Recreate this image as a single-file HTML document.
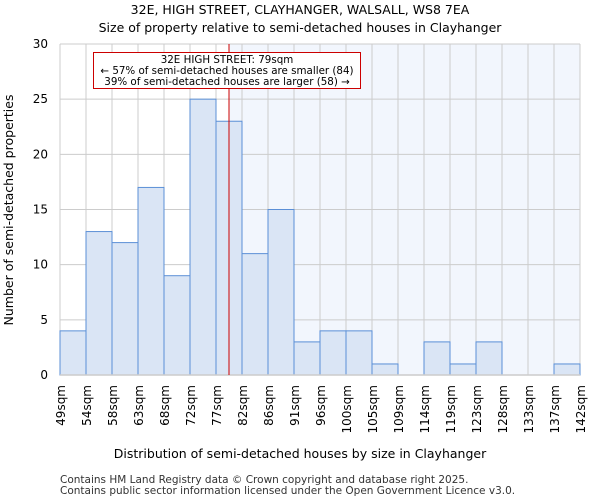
<!DOCTYPE html>
<html><head><meta charset="utf-8"><style>
body{margin:0;background:#fff;font-family:"DejaVu Sans","Liberation Sans",sans-serif;}
svg text{font-family:"DejaVu Sans","Liberation Sans",sans-serif;}
</style></head><body>
<svg id="c" width="600" height="500">
<text x="300" y="14" text-anchor="middle" font-size="12.5">32E, HIGH STREET, CLAYHANGER, WALSALL, WS8 7EA</text>
<text x="300" y="32" text-anchor="middle" font-size="12.5">Size of property relative to semi-detached houses in Clayhanger</text>
<g id="plot"></g>
<text x="300" y="458" text-anchor="middle" font-size="12.5">Distribution of semi-detached houses by size in Clayhanger</text>
<text transform="translate(13,210) rotate(-90)" text-anchor="middle" font-size="12.5">Number of semi-detached properties</text>
<text x="60" y="483" font-size="10.5" fill="#333">Contains HM Land Registry data © Crown copyright and database right 2025.</text>
<text x="60" y="494" font-size="10.5" fill="#333">Contains public sector information licensed under the Open Government Licence v3.0.</text>
</svg>
<script>
const labels=["49sqm","54sqm","58sqm","63sqm","68sqm","72sqm","77sqm","82sqm","86sqm","91sqm","96sqm","100sqm","105sqm","109sqm","114sqm","119sqm","123sqm","128sqm","133sqm","137sqm","142sqm"];
const counts=[4,13,12,17,9,25,23,11,15,3,4,4,1,0,3,1,3,0,0,1];
const yTicks=[0,5,10,15,20,25,30];
const markerBin=6.5;
const annotation=["32E HIGH STREET: 79sqm","← 57% of semi-detached houses are smaller (84)","39% of semi-detached houses are larger (58) →"];
const X0=60,X1=580,Y0=375,Y1=44,YMAX=30;
const ns="http://www.w3.org/2000/svg";
const g=document.getElementById('plot');
const bw=(X1-X0)/counts.length;
const xs=i=>X0+i*bw;
const ys=v=>Y0-(v/YMAX)*(Y0-Y1);
function el(t,a){const e=document.createElementNS(ns,t);for(const k in a)e.setAttribute(k,a[k]);g.appendChild(e);return e;}
const mx=xs(markerBin);
let bg=el('rect',{x:mx,y:Y1,width:X1-mx,height:Y0-Y1,fill:'#f2f6fd'});


for(let i=0;i<labels.length;i++){
  let l=el('line',{x1:xs(i),x2:xs(i),y1:Y1,y2:Y0,stroke:'#cccccc','stroke-width':1});
  
  
  let t=el('text',{transform:`translate(${xs(i)+5},385) rotate(-90)`,'text-anchor':'end','font-size':12});
  t.textContent=labels[i];
  
  
}
yTicks.forEach(v=>{
  let l=el('line',{x1:X0,x2:X1,y1:ys(v),y2:ys(v),stroke:'#cccccc','stroke-width':1});
  
  
  let t=el('text',{x:X0-12,y:ys(v)+4,'text-anchor':'end','font-size':12});
  t.textContent=v;
  
  
});
counts.forEach((c,i)=>{
  if(c<=0)return;
  let r=el('rect',{x:xs(i),y:ys(c),width:bw,height:Y0-ys(c),fill:'#dae5f5',stroke:'#5b8fd6','stroke-width':1});
  
  
});
let ax=el('line',{x1:X0,x2:X1,y1:Y0,y2:Y0,stroke:'#cccccc','stroke-width':1.5});


let ml=el('line',{x1:mx,x2:mx,y1:Y1,y2:Y0,stroke:'#cc0000','stroke-width':1});


let box=el('rect',{x:93.5,y:52.5,width:267,height:36,fill:'#fff',stroke:'#cc0000','stroke-width':1});


annotation.forEach((s,k)=>{
  let t=el('text',{x:227,y:63+k*11,'text-anchor':'middle','font-size':10.3});
  t.textContent=s;
  
  
});
</script>
</body></html>
